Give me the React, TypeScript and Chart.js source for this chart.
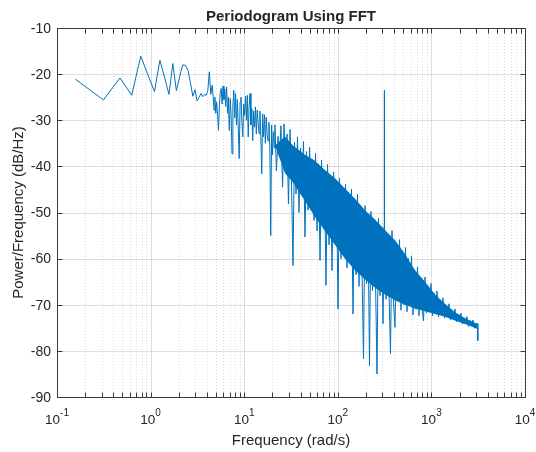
import React, { useEffect, useRef } from 'react';
import { Chart, registerables } from 'chart.js';

Chart.register(...registerables);

// ---------------- data ----------------
// Frequency of each plotted sample (rad/s)
const freqRad: number[] = [
  0.157, 0.314, 0.471, 0.628, 0.785, 0.942, 1.100, 1.257, 1.414, 1.571,
  1.728, 1.885, 2.042, 2.199, 2.356, 2.513, 2.670, 2.827, 2.985, 3.142,
  3.299, 3.456, 3.613, 3.770, 3.927, 4.084, 4.241, 4.398,
  4.55, 4.65, 4.76, 4.86, 4.97, 5.08, 5.20, 5.31, 5.43, 5.55,
  5.68, 5.81, 5.94, 6.07, 6.20, 6.34, 6.49, 6.63, 6.78, 6.93,
  7.09, 7.25, 7.41, 7.57, 7.74, 7.92, 8.09, 8.28, 8.46, 8.65,
  8.84, 9.04, 9.24, 9.45, 9.66, 9.88, 10.10, 10.33, 10.56, 10.80,
  11.04, 11.28, 11.54, 11.80, 12.06, 12.33, 12.61, 12.89, 13.18, 13.47,
  13.78, 14.09, 14.40, 14.72, 15.05, 15.39, 15.74, 16.09, 16.45, 16.82,
  17.20, 17.58, 17.98, 18.38, 18.79, 19.21, 19.64, 20.08, 20.53, 20.99,
  21.3, 22.1, 23.0, 23.8, 24.7, 25.7, 26.6, 27.6, 28.7, 29.7,
  30.9, 32.0, 33.2, 34.5, 35.8, 37.1, 38.5, 40.0, 41.5, 43.0,
  44.6, 46.3, 48.1, 49.9, 51.7, 53.7, 55.7, 57.8, 60.0, 62.2,
  64.6, 67.0, 69.5, 72.1, 74.8, 77.7, 80.6, 83.6, 86.7, 90.0,
  93.4, 96.9, 100.5, 104.3, 108.2, 112.3, 116.5, 120.9, 125.4, 130.1,
  135.0, 140.1, 145.3, 150.8, 156.5, 162.3, 168.5, 174.8, 181.4, 188.2,
  195.3, 202.6, 210.2, 218.1, 226.3, 234.9, 243.7, 252.9, 262.4, 272.2,
  282.4, 293.1, 304.1, 314.0, 314.16, 314.3, 315.5, 327.4, 339.7, 352.4,
  365.6, 379.4, 393.6, 408.4, 423.8, 439.7, 456.2, 473.4, 491.2, 509.6,
  528.8, 548.7, 569.3, 590.6, 612.8, 635.9, 659.8, 684.6, 710.3, 737.1,
  764.8, 793.6, 823.4, 854.4, 886.6, 919.9, 954.5, 990.4, 1027, 1066,
  1106, 1148, 1191, 1236, 1282, 1330, 1380, 1432, 1486, 1542,
  1600, 1660, 1722, 1787, 1854, 1924, 1996, 2071, 2149, 2230,
  2313, 2400, 2490, 2584, 2681, 2782, 2886, 2995, 3107, 3130,
  3141.6,
];

// Power spectral density at each of those frequencies (dB/Hz)
const powerDb: number[] = [
  -21.1, -25.6, -20.8, -24.6, -16.1, -20.3, -23.8, -17.0, -20.8, -24.4,
  -17.7, -23.6, -20.6, -18.0, -18.1, -19.2, -22.0, -24.8, -23.4, -25.8,
  -25.0, -24.2, -24.9, -24.4, -24.6, -23.6, -19.5, -24.4,
  -22.4, -24.5, -27.8, -25.0, -28.5, -26.0, -29.0, -32.2, -26.8, -24.0,
  -23.1, -26.5, -22.6, -25.5, -23.2, -27.0, -22.8, -28.5, -25.0, -32.2,
  -25.3, -29.0, -37.3, -27.0, -23.5, -29.5, -24.2, -31.0, -25.5, -32.0,
  -38.3, -26.0, -25.0, -30.5, -33.6, -26.5, -28.9, -24.8, -30.0, -24.6,
  -33.6, -27.0, -24.2, -31.0, -27.5, -34.4, -28.0, -31.5, -27.1, -33.0,
  -27.8, -30.5, -32.9, -28.0, -33.5, -41.6, -28.6, -33.6, -28.8, -35.0,
  -29.3, -33.0, -34.5, -30.4, -36.0, -55.0, -31.0, -37.5, -32.5, -36.0,
  -31.0, -41.0, -33.5, -38.0, -31.2, -44.5, -30.8, -40.5, -33.0, -48.1,
  -32.0, -43.0, -61.5, -34.8, -46.0, -33.6, -50.0, -36.0, -45.5, -34.6,
  -55.3, -36.8, -49.5, -35.8, -47.0, -38.4, -51.7, -37.2, -54.0, -39.6,
  -60.4, -38.6, -52.5, -41.0, -65.8, -39.6, -57.0, -42.0, -62.6, -41.2,
  -56.5, -43.5, -70.9, -42.6, -60.0, -44.6, -58.5, -43.9, -62.0, -45.9,
  -60.8, -44.9, -72.0, -47.0, -63.5, -46.0, -66.0, -48.4, -62.5, -81.7,
  -48.5, -65.5, -50.6, -83.2, -49.8, -67.0, -51.9, -64.8, -85.0, -51.2,
  -68.0, -53.4, -74.1, -53.0, -23.5, -54.0, -52.8, -68.8, -54.6, -67.2,
  -80.6, -53.9, -69.5, -74.9, -56.8, -68.5, -55.9, -71.2, -58.4, -70.0,
  -57.6, -71.5, -60.0, -69.5, -59.4, -72.2, -62.4, -71.0, -61.8, -72.4,
  -64.2, -70.6, -73.5, -64.0, -71.8, -65.9, -70.9, -65.4, -72.4, -67.4,
  -71.2, -67.0, -72.6, -68.9, -71.7, -68.5, -72.9, -70.1, -72.2, -69.8,
  -73.3, -71.1, -72.8, -70.9, -73.7, -72.0, -73.4, -71.8, -74.2, -72.8,
  -74.0, -72.6, -74.7, -73.4, -74.5, -73.3, -75.1, -74.1, -75.3, -74.0,
  -77.8,
];

// Solid core of the dense noise band (where the trace is packed solid)
const bandFreq: number[] = [
  21.3, 27.3, 33.2, 44.6, 57.0, 72.9, 93.3, 119.4, 152.7, 195.3, 249.7,
  319.4, 408.4, 522.3, 668, 854, 1092, 1397, 1786, 2285, 3107,
];
const bandUpper: number[] = [
  -35.5, -33.5, -35.5, -37.5, -38.8, -40.8, -42.6, -44.8, -47, -49.5, -51.5,
  -53.8, -56, -59, -62.5, -65, -67.8, -69.8, -71.6, -72.9, -74.2,
];
const bandLower: number[] = [
  -35.5, -41.5, -43.5, -47.5, -51, -54, -57, -60, -62.5, -64.5, -66.3,
  -67.8, -69, -70, -70.8, -71.4, -72, -72.6, -73.4, -74.2, -75.2,
];

// Axes
const xMajorTicks: number[] = [0.1, 1, 10, 100, 1000, 10000];
const xTickExponents: string[] = ['-1', '0', '1', '2', '3', '4'];
const xMinorSteps: number[] = [2, 3, 4, 5, 6, 7, 8, 9];
const yTicks: number[] = [-90, -80, -70, -60, -50, -40, -30, -20, -10];

const titleText = 'Periodogram Using FFT';
const xLabelText = 'Frequency (rad/s)';
const yLabelText = 'Power/Frequency (dB/Hz)';

const FONT = '"Liberation Sans", Arial, Helvetica, sans-serif';
const LINE_COLOR = '#0072BD';
const TEXT_COLOR = '#262626';
const AXIS_COLOR = '#3a3a3a';

const matlabAxes = {
  id: 'matlabAxes',
  beforeDatasetsDraw(chart: any) {
    const { ctx, chartArea: a, scales } = chart;
    const xs = scales.x;
    const ys = scales.y;
    ctx.save();
    ctx.lineWidth = 1;
    // minor x grid (dotted)
    ctx.strokeStyle = 'rgba(38,38,38,0.16)';
    ctx.setLineDash([1, 2]);
    for (let d = 0; d < xMajorTicks.length - 1; d++) {
      for (const m of xMinorSteps) {
        const px = Math.round(xs.getPixelForValue(xMajorTicks[d] * m)) + 0.5;
        ctx.beginPath();
        ctx.moveTo(px, a.top);
        ctx.lineTo(px, a.bottom);
        ctx.stroke();
      }
    }
    // major grid
    ctx.setLineDash([]);
    ctx.strokeStyle = 'rgba(38,38,38,0.15)';
    for (const v of xMajorTicks) {
      const px = Math.round(xs.getPixelForValue(v)) + 0.5;
      ctx.beginPath();
      ctx.moveTo(px, a.top);
      ctx.lineTo(px, a.bottom);
      ctx.stroke();
    }
    for (const v of yTicks) {
      const py = Math.round(ys.getPixelForValue(v)) + 0.5;
      ctx.beginPath();
      ctx.moveTo(a.left, py);
      ctx.lineTo(a.right, py);
      ctx.stroke();
    }
    ctx.restore();
  },
  afterDraw(chart: any) {
    const { ctx, chartArea: a, scales } = chart;
    const xs = scales.x;
    const ys = scales.y;
    const L = Math.round(a.left) + 0.5;
    const R = Math.round(a.right) + 0.5;
    const T = Math.round(a.top) + 0.5;
    const B = Math.round(a.bottom) + 0.5;
    ctx.save();
    ctx.lineWidth = 1;
    ctx.strokeStyle = AXIS_COLOR;
    ctx.strokeRect(L, T, R - L, B - T);

    // inward ticks
    const tl = 5;
    ctx.beginPath();
    const xTickVals: number[] = [];
    for (let d = 0; d < xMajorTicks.length; d++) {
      xTickVals.push(xMajorTicks[d]);
      if (d < xMajorTicks.length - 1) for (const m of xMinorSteps) xTickVals.push(xMajorTicks[d] * m);
    }
    for (const v of xTickVals) {
      const px = Math.round(xs.getPixelForValue(v)) + 0.5;
      ctx.moveTo(px, B);
      ctx.lineTo(px, B - tl);
      ctx.moveTo(px, T);
      ctx.lineTo(px, T + tl);
    }
    for (const v of yTicks) {
      const py = Math.round(ys.getPixelForValue(v)) + 0.5;
      ctx.moveTo(L, py);
      ctx.lineTo(L + tl, py);
      ctx.moveTo(R, py);
      ctx.lineTo(R - tl, py);
    }
    ctx.stroke();

    ctx.fillStyle = TEXT_COLOR;
    // y tick labels
    ctx.font = `14px ${FONT}`;
    ctx.textAlign = 'right';
    ctx.textBaseline = 'middle';
    for (const v of yTicks) {
      ctx.fillText(String(v), a.left - 6, ys.getPixelForValue(v) + 1);
    }
    // x tick labels: 10^n
    ctx.textAlign = 'left';
    ctx.textBaseline = 'alphabetic';
    for (let i = 0; i < xMajorTicks.length; i++) {
      const px = xs.getPixelForValue(xMajorTicks[i]);
      ctx.font = `13.5px ${FONT}`;
      const wb = ctx.measureText('10').width;
      ctx.font = `10px ${FONT}`;
      const we = ctx.measureText(xTickExponents[i]).width;
      const x0 = px - (wb + we) / 2;
      ctx.font = `13.5px ${FONT}`;
      ctx.fillText('10', x0, a.bottom + 26.5);
      ctx.font = `10px ${FONT}`;
      ctx.fillText(xTickExponents[i], x0 + wb, a.bottom + 18.5);
    }
    // axis labels
    const cx = (a.left + a.right) / 2;
    ctx.textAlign = 'center';
    ctx.font = `15px ${FONT}`;
    ctx.fillText(xLabelText, cx, a.bottom + 48);
    ctx.save();
    ctx.translate(23, (a.top + a.bottom) / 2);
    ctx.rotate(-Math.PI / 2);
    ctx.fillText(yLabelText, 0, 0);
    ctx.restore();
    // title
    ctx.font = `bold 15px ${FONT}`;
    ctx.fillText(titleText, cx, 21);
    ctx.restore();
  },
};

export default function App() {
  const canvasRef = useRef<HTMLCanvasElement | null>(null);

  useEffect(() => {
    const canvas = canvasRef.current;
    if (!canvas) return;
    const trace = freqRad.map((f, i) => ({ x: f, y: powerDb[i] }));
    const upper = bandFreq.map((f, i) => ({ x: f, y: bandUpper[i] }));
    const lower = bandFreq.map((f, i) => ({ x: f, y: bandLower[i] }));

    const chart = new Chart(canvas, {
      type: 'line',
      data: {
        datasets: [
          {
            label: 'PSD',
            data: trace,
            borderColor: LINE_COLOR,
            borderWidth: 1,
            pointRadius: 0,
            fill: false,
            tension: 0,
            borderJoinStyle: 'round',
          },
          {
            label: 'core upper',
            data: upper,
            borderColor: 'rgba(0,0,0,0)',
            borderWidth: 0,
            pointRadius: 0,
            fill: false,
          },
          {
            label: 'core lower',
            data: lower,
            borderColor: 'rgba(0,0,0,0)',
            borderWidth: 0,
            pointRadius: 0,
            fill: '-1',
            backgroundColor: LINE_COLOR,
          },
        ],
      } as any,
      options: {
        responsive: false,
        animation: false,
        events: [],
        layout: { padding: { left: 57, right: 11, top: 28, bottom: 55 } },
        plugins: {
          legend: { display: false },
          tooltip: { enabled: false },
          title: { display: false },
        },
        scales: {
          x: { type: 'logarithmic', min: 0.1, max: 10000, display: false },
          y: { type: 'linear', min: -90, max: -10, display: false },
        },
      } as any,
      plugins: [matlabAxes as any],
    });
    return () => chart.destroy();
  }, []);

  return (
    <div style={{ position: 'absolute', left: 0, top: 0, width: 536, height: 452, background: '#fff' }}>
      <canvas ref={canvasRef} width={536} height={452} style={{ display: 'block', width: 536, height: 452 }} />
    </div>
  );
}
